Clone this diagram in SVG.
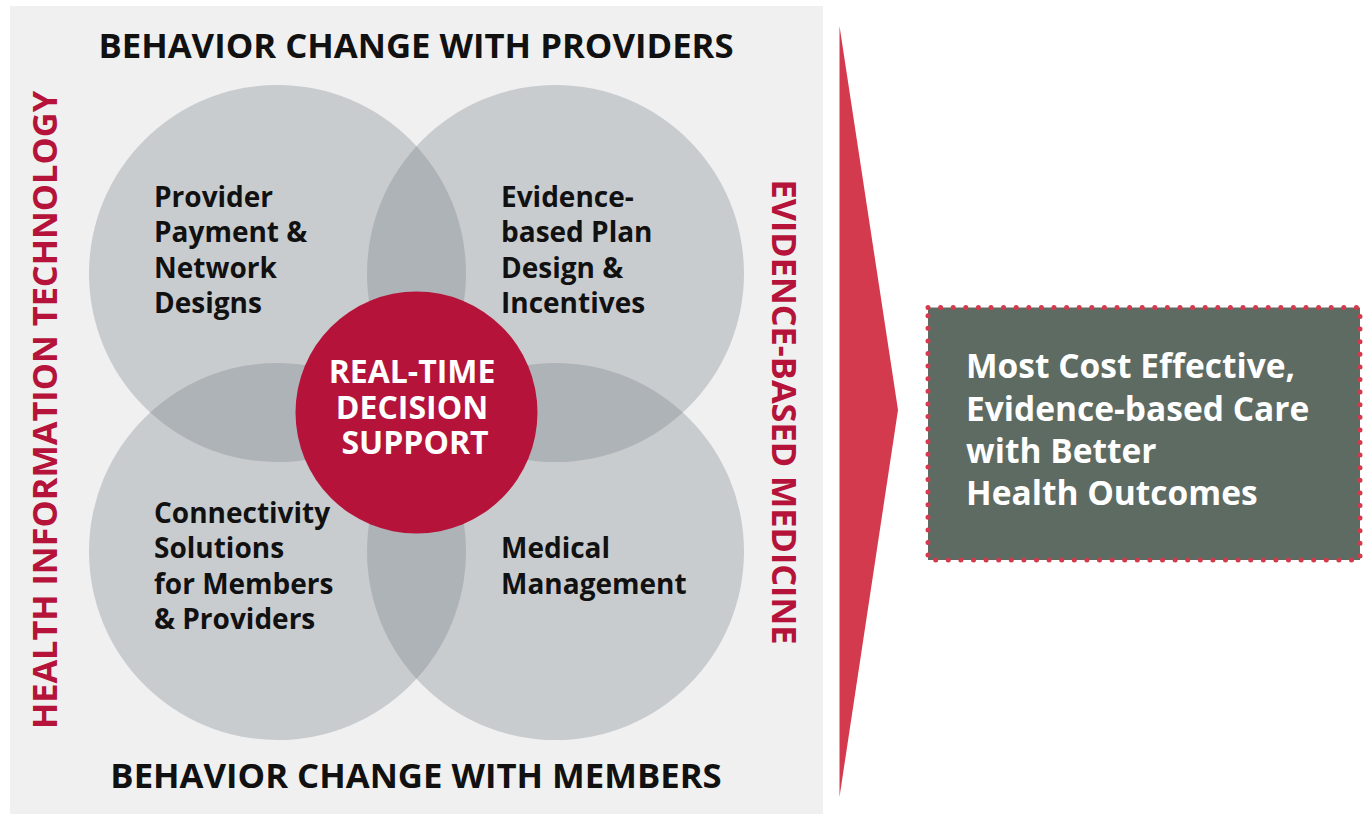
<svg xmlns="http://www.w3.org/2000/svg" width="1364" height="814" viewBox="0 0 1364 814">
  <style>
    .hdr { font-family: "Open Sans", "Noto Sans", sans-serif; font-weight: 700; font-size: 34.7px; fill: #111; }
    .side { font-family: "Open Sans", "Noto Sans", sans-serif; font-weight: 700; font-size: 34.3px; fill: #b5133a; }
    .lbl { font-family: "Open Sans", "Noto Sans", sans-serif; font-weight: 700; font-size: 28px; fill: #111; }
    .ctr { font-family: "Open Sans", "Noto Sans", sans-serif; font-weight: 700; font-size: 32px; fill: #fff; }
    .out { font-family: "Open Sans", "Noto Sans", sans-serif; font-weight: 700; font-size: 33.5px; fill: #fff; }
    .petal { fill: rgb(118,128,137); fill-opacity: 0.32; }
  </style>

  <rect width="1364" height="814" fill="#ffffff"/>

  <!-- panel -->
  <rect x="10" y="6" width="813" height="808" fill="#f0f0f0"/>

  <text class="hdr" x="416" y="58" text-anchor="middle">BEHAVIOR CHANGE WITH PROVIDERS</text>
  <text class="hdr" x="416" y="788" text-anchor="middle">BEHAVIOR CHANGE WITH MEMBERS</text>
  <text class="side" transform="translate(57,410) rotate(-90)" text-anchor="middle">HEALTH INFORMATION TECHNOLOGY</text>
  <text class="side" transform="translate(772,412) rotate(90)" text-anchor="middle">EVIDENCE-BASED MEDICINE</text>

  <!-- four overlapping areas -->
  <g id="node-provider-payment">
    <circle class="petal" cx="277.5" cy="273.5" r="188.5"/>
    <text class="lbl" x="154" y="207">Provider</text>
    <text class="lbl" x="154" y="242">Payment &amp;</text>
    <text class="lbl" x="154" y="278">Network</text>
    <text class="lbl" x="154" y="313">Designs</text>
  </g>
  <g id="node-plan-design">
    <circle class="petal" cx="555.5" cy="273.5" r="188.5"/>
    <text class="lbl" x="501" y="207">Evidence-</text>
    <text class="lbl" x="501" y="242">based Plan</text>
    <text class="lbl" x="501" y="278">Design &amp;</text>
    <text class="lbl" x="501" y="313">Incentives</text>
  </g>
  <g id="node-connectivity">
    <circle class="petal" cx="277.5" cy="551.5" r="188.5"/>
    <text class="lbl" x="154" y="523">Connectivity</text>
    <text class="lbl" x="154" y="558">Solutions</text>
    <text class="lbl" x="154" y="594">for Members</text>
    <text class="lbl" x="154" y="629">&amp; Providers</text>
  </g>
  <g id="node-medical-management">
    <circle class="petal" cx="555.5" cy="551.5" r="188.5"/>
    <text class="lbl" x="501" y="558">Medical</text>
    <text class="lbl" x="501" y="594">Management</text>
  </g>

  <!-- hub -->
  <g id="node-decision-support">
    <circle cx="416.5" cy="412.5" r="121" fill="#b5133a"/>
    <text class="ctr" x="412" y="383" text-anchor="middle">REAL-TIME</text>
    <text class="ctr" x="412" y="419" text-anchor="middle">DECISION</text>
    <text class="ctr" x="415" y="454" text-anchor="middle">SUPPORT</text>
  </g>

  <g id="connectors">
    <polygon points="839.5,26 898,410 839.5,797" fill="#d43a4d"/>
  </g>

  <!-- outcome -->
  <g id="node-outcome">
    <rect x="928" y="307.5" width="432" height="252.5" fill="#5e6b63"/>
    <rect x="928" y="307.5" width="432" height="252.5" fill="none" stroke="#d43a4d" stroke-width="5" stroke-linecap="round" stroke-dasharray="0 12.6"/>
    <text class="out" x="966" y="378">Most Cost Effective,</text>
    <text class="out" x="966" y="421">Evidence-based Care</text>
    <text class="out" x="966" y="463">with Better</text>
    <text class="out" x="966" y="505">Health Outcomes</text>
  </g>
</svg>
